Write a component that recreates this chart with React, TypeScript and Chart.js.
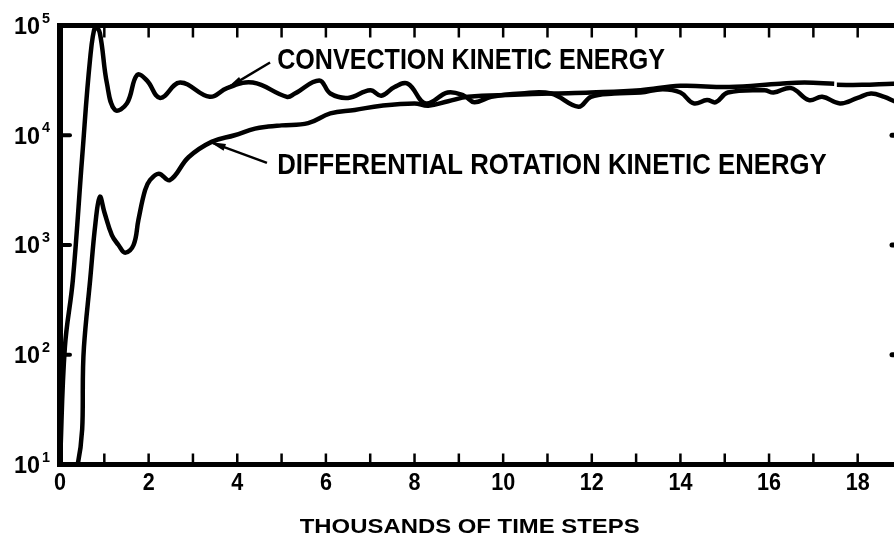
import React, { useEffect, useRef } from "react";
import { Chart, registerables } from "chart.js";

Chart.register(...registerables);

// ---- data (x in thousands of time steps, y = kinetic energy) ----
const convX = [0, 0.11, 0.29, 0.5, 0.68, 0.8, 0.9, 1.06, 1.24, 1.51, 1.74, 1.96, 2.26, 2.71, 3.38, 3.77, 4.35, 5.12, 5.3, 5.85, 6.1, 6.5, 7.0, 7.25, 7.55, 7.85, 8.25, 8.75, 9.12, 9.35, 9.73, 10.4, 11.08, 11.7, 11.98, 12.5, 13.1, 13.6, 14.0, 14.3, 14.6, 14.8, 15.07, 15.9, 16.1, 16.5, 16.9, 17.2, 17.6, 18.0, 18.3, 18.6, 18.9, 19.0];
const convE = [10, 117, 480, 6300, 50000, 100000, 85000, 29500, 17000, 19500, 35500, 31600, 21900, 30200, 22400, 26900, 30200, 22400, 24000, 31600, 24000, 21900, 25700, 22900, 27500, 29500, 19500, 24500, 22900, 20000, 22400, 24000, 24000, 18200, 22400, 24000, 24500, 26300, 24500, 19500, 20900, 20000, 24500, 25700, 24500, 26900, 20900, 22400, 19500, 21900, 24000, 22400, 20000, 20400];

const diffX = [0, 0.4, 0.54, 0.68, 0.8, 0.9, 1.0, 1.17, 1.32, 1.47, 1.66, 1.77, 1.92, 2.03, 2.23, 2.48, 2.9, 3.42, 3.94, 4.4, 4.7, 5.0, 5.6, 6.1, 6.65, 7.25, 8.0, 8.31, 8.76, 9.21, 10.25, 11.08, 11.98, 13.1, 14.0, 15.1, 16.25, 16.8, 17.47, 17.5, 17.53, 18.1, 18.8, 19.0];
const diffE = [10, 10, 117, 480, 1580, 2750, 2000, 1230, 1000, 850, 1000, 1700, 3160, 3900, 4470, 3900, 6300, 8700, 10000, 11500, 12000, 12300, 12900, 15800, 17000, 18600, 19500, 18600, 20400, 22400, 23400, 24000, 24500, 25700, 28200, 27500, 29500, 30200, 29500, null, 28800, 28800, 29500, 29500];

const xMin = 0;
const xMax = 19;
const yMin = 10;
const yMax = 100000;
const xTickMarks = [1, 2, 3, 4, 5, 6, 7, 8, 9, 10, 11, 12, 13, 14, 15, 16, 17, 18, 19];
const xTickLabels = [0, 2, 4, 6, 8, 10, 12, 14, 16, 18];
const yExponents = [1, 2, 3, 4, 5];
const yInnerTickExponents = [2, 3, 4];
const xTitle = "THOUSANDS OF TIME STEPS";

const convLabel = "CONVECTION KINETIC ENERGY";
const convLabelSpan = [4.9, 13.65];
const convLabelY = 47400;
const convLeader = [[3.77, 26900], [4.74, 46000]];

const diffLabel = "DIFFERENTIAL ROTATION KINETIC ENERGY";
const diffLabelSpan = [4.9, 17.3];
const diffLabelY = 5250;
const diffLeader = [[3.38, 8700], [4.67, 5600]];

const titleSpan = [5.41, 13.08];

const FONT = "'Liberation Sans', Arial, Helvetica, sans-serif";

function fillFitted(ctx: CanvasRenderingContext2D, text: string, x: number, y: number, width: number, font: string) {
  ctx.font = font;
  ctx.textAlign = "left";
  ctx.textBaseline = "middle";
  const w = ctx.measureText(text).width;
  ctx.save();
  ctx.translate(x, y);
  ctx.scale(width / w, 1);
  ctx.fillText(text, 0, 0);
  ctx.restore();
}

function line(ctx: CanvasRenderingContext2D, x1: number, y1: number, x2: number, y2: number, w: number, cap: CanvasLineCap = "butt") {
  ctx.beginPath();
  ctx.lineWidth = w;
  ctx.lineCap = cap;
  ctx.moveTo(x1, y1);
  ctx.lineTo(x2, y2);
  ctx.stroke();
}

const framePlugin = {
  id: "frame",
  afterDatasetsDraw(chart: any) {
    const ctx: CanvasRenderingContext2D = chart.ctx;
    const xs = chart.scales.x;
    const ys = chart.scales.y;
    const left = xs.getPixelForValue(xMin);
    const right = xs.getPixelForValue(xMax);
    const top = ys.getPixelForValue(yMax);
    const bottom = ys.getPixelForValue(yMin);
    ctx.save();
    ctx.strokeStyle = "#000";
    ctx.fillStyle = "#000";

    // frame
    line(ctx, left - 3, top, right + 3, top, 5);
    line(ctx, left - 3, bottom, right + 3, bottom, 5);
    line(ctx, left, top - 2.5, left, bottom + 2.5, 6);
    line(ctx, right, top - 2.5, right, bottom + 2.5, 5);

    // x ticks (inward, top and bottom)
    for (const v of xTickMarks) {
      const px = xs.getPixelForValue(v);
      line(ctx, px, bottom, px, bottom - 11, 2.5);
      line(ctx, px, top, px, top + 12, 2.5);
    }
    // y inner ticks (left and right)
    for (const e of yInnerTickExponents) {
      const py = ys.getPixelForValue(Math.pow(10, e));
      line(ctx, left, py, left + 10, py, 4, "round");
      line(ctx, right, py, right - 10, py, 5, "round");
    }

    // y labels 10^n
    for (const e of yExponents) {
      const py = ys.getPixelForValue(Math.pow(10, e));
      fillFitted(ctx, "10", 14, py + 2, 26, `bold 23px ${FONT}`);
      fillFitted(ctx, String(e), 42, py - 7, 8, `bold 15px ${FONT}`);
    }

    // x labels
    for (const v of xTickLabels) {
      const px = xs.getPixelForValue(v);
      const t = String(v);
      const w = t.length * 12;
      fillFitted(ctx, t, px - w / 2, bottom + 19, w, `bold 23px ${FONT}`);
    }

    // x title
    {
      const x1 = xs.getPixelForValue(titleSpan[0]);
      const x2 = xs.getPixelForValue(titleSpan[1]);
      fillFitted(ctx, xTitle, x1, bottom + 63, x2 - x1, `bold 21px ${FONT}`);
    }

    // annotations
    const drawLeader = (pts: number[][]) => {
      const x1 = xs.getPixelForValue(pts[0][0]);
      const y1 = ys.getPixelForValue(pts[0][1]);
      const x2 = xs.getPixelForValue(pts[1][0]);
      const y2 = ys.getPixelForValue(pts[1][1]);
      line(ctx, x1, y1, x2, y2, 2.5);
      const dx = x2 - x1, dy = y2 - y1;
      const len = Math.hypot(dx, dy);
      const ux = dx / len, uy = dy / len;
      const hx = x1 + ux * 16, hy = y1 + uy * 16;
      ctx.beginPath();
      ctx.moveTo(x1, y1);
      ctx.lineTo(hx - uy * 3.5, hy + ux * 3.5);
      ctx.lineTo(hx + uy * 3.5, hy - ux * 3.5);
      ctx.closePath();
      ctx.fill();
    };
    drawLeader(convLeader);
    drawLeader(diffLeader);

    {
      const x1 = xs.getPixelForValue(convLabelSpan[0]);
      const x2 = xs.getPixelForValue(convLabelSpan[1]);
      fillFitted(ctx, convLabel, x1, ys.getPixelForValue(convLabelY), x2 - x1, `bold 30px ${FONT}`);
    }
    {
      const x1 = xs.getPixelForValue(diffLabelSpan[0]);
      const x2 = xs.getPixelForValue(diffLabelSpan[1]);
      fillFitted(ctx, diffLabel, x1, ys.getPixelForValue(diffLabelY), x2 - x1, `bold 30px ${FONT}`);
    }
    ctx.restore();
  },
};

export default function App() {
  const ref = useRef<HTMLCanvasElement | null>(null);
  useEffect(() => {
    if (!ref.current) return;
    const chart = new Chart(ref.current, {
      type: "line",
      data: {
        datasets: [
          {
            label: convLabel,
            data: convX.map((x, i) => ({ x, y: convE[i] })),
            borderColor: "#000",
            borderWidth: 4.5,
            pointRadius: 0,
            fill: false,
            tension: 0.4,
            spanGaps: false,
          },
          {
            label: diffLabel,
            data: diffX.map((x, i) => ({ x, y: diffE[i] })),
            borderColor: "#000",
            borderWidth: 4.5,
            pointRadius: 0,
            fill: false,
            tension: 0.4,
            spanGaps: false,
          },
        ],
      } as any,
      options: {
        animation: false,
        responsive: false,
        events: [],
        layout: { padding: { left: 60, right: 8, top: 25.5, bottom: 76.5 } },
        scales: {
          x: { type: "linear", min: xMin, max: xMax, display: false },
          y: { type: "logarithmic", min: yMin, max: yMax, display: false },
        },
        plugins: { legend: { display: false }, tooltip: { enabled: false } },
      } as any,
      plugins: [framePlugin],
    });
    return () => chart.destroy();
  }, []);
  return (
    <div style={{ position: "fixed", left: 0, top: 0, width: 910, height: 541, background: "#fff" }}>
      <canvas ref={ref} width={910} height={541} style={{ width: 910, height: 541, display: "block" }} />
    </div>
  );
}
